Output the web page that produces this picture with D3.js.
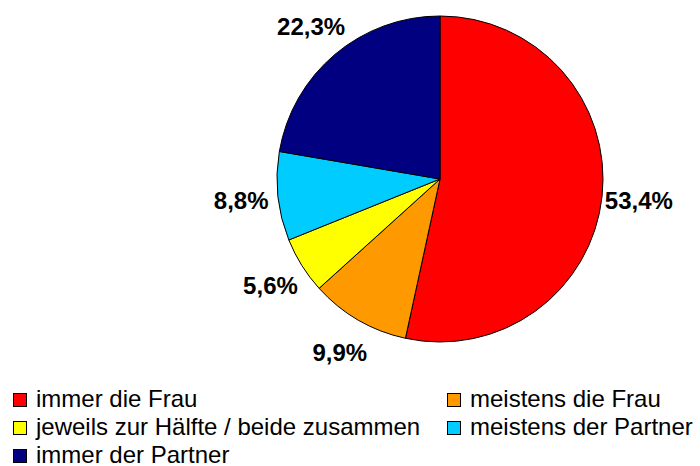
<!DOCTYPE html>
<html>
<head>
<meta charset="utf-8">
<script src="https://cdn.jsdelivr.net/npm/d3@7"></script>
<style>
  body { margin: 0; background: #fff; }
  svg { display: block; font-family: "Liberation Sans", Arial, sans-serif; }
</style>
</head>
<body>
<svg width="700" height="466"></svg>
<script>
// categories, values and colours, clockwise from 12 o'clock
const categories = ["immer die Frau", "meistens die Frau", "jeweils zur Hälfte / beide zusammen", "meistens der Partner", "immer der Partner"];
const values = [53.4, 9.9, 5.6, 8.8, 22.3];
const colors = ["#ff0000", "#ff9900", "#ffff00", "#00ccff", "#000080"];

const svg = d3.select("svg"),
    cx = 440, cy = 179, radius = 163;

const data = categories.map((c, i) => ({name: c, value: values[i], color: colors[i]}));

const pie_gen = d3.pie()
    .value(d => d.value)
    .sort(null);

const arc_gen = d3.arc()
    .innerRadius(0)
    .outerRadius(radius);

// labels sit outside the pie
const label_arc = d3.arc()
    .innerRadius(200)
    .outerRadius(200);

const fmt = v => d3.format(".1f")(v).replace(".", ",") + "%";

const g = svg.append("g")
    .attr("transform", "translate(" + cx + "," + cy + ")");

const arcs = pie_gen(data);

g.selectAll("path")
    .data(arcs)
  .enter().append("path")
    .attr("d", arc_gen)
    .attr("fill", d => d.data.color)
    .attr("stroke", "#000")
    .attr("stroke-width", 1);

g.selectAll("text")
    .data(arcs)
  .enter().append("text")
    .attr("transform", d => "translate(" + label_arc.centroid(d) + ")")
    .attr("text-anchor", "middle")
    .attr("dy", "0.36em")
    .attr("font-size", 24)
    .attr("font-weight", "bold")
    .attr("fill", "#000")
    .text(d => fmt(d.data.value));

// legend: two columns, filled row by row
const colX = [13, 447], rowY = 393, rowH = 28;

const legend = svg.append("g")
    .selectAll("g")
    .data(data)
  .enter().append("g")
    .attr("transform", (d, i) => "translate(" + colX[i % 2] + "," + (rowY + Math.floor(i / 2) * rowH) + ")");

legend.append("rect")
    .attr("x", 0.5)
    .attr("y", 0.5)
    .attr("width", 13)
    .attr("height", 13)
    .attr("fill", d => d.color)
    .attr("stroke", "#000")
    .attr("stroke-width", 1);

legend.append("text")
    .attr("x", 23)
    .attr("y", 14)
    .attr("font-size", 24)
    .attr("fill", "#000")
    .text(d => d.name);
</script>
</body>
</html>
